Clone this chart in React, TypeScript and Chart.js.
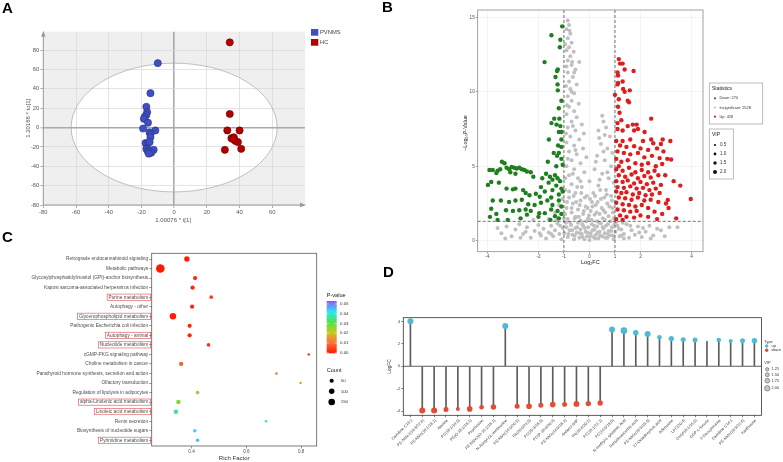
import React, { useEffect, useRef } from "react";
import { Chart, registerables } from "chart.js";
Chart.register(...registerables);

const FONT = "'Liberation Sans', Arial, Helvetica, sans-serif";
Chart.defaults.font.family = FONT;

// ---------------- A: PCA scores ----------------
const PCA_GROUPS = ["PVNMS", "HC"];
const PCA_PVNMS: number[][] = [
  [-10, 66.5], [-14.5, 35.5], [-17, 21.5], [-16.5, 16], [-17, 13], [-18, 11], [-18.5, 9], [-16, 5],
  [-19, -1], [-11.5, -3], [-15, -5], [-14.5, -7], [-14.5, -10], [-17.5, -16], [-16, -16], [-15, -15],
  [-17, -22], [-15.5, -23], [-12.5, -23], [-16, -25], [-14, -26], [-15.5, -27],
];
const PCA_HC: number[][] = [
  [34, 88], [34, 14], [32.5, -3], [40, -3], [35, -11], [36.5, -10], [37.5, -14], [39, -15],
  [31, -23], [41, -22], [36, -12],
];
const PCA_ELLIPSE = [63, 66.5];
const PCA_X_TICKS = [-80, -60, -40, -20, 0, 20, 40, 60];
const PCA_Y_TICKS = [-80, -60, -40, -20, 0, 20, 40, 60, 80];

// ---------------- B: volcano ----------------
const VOLC_DOWN: number[][] = [
  [-1.07, 14.4], [-1.49, 13.8], [-1.14, 13.5], [-1.16, 13.0], [-1.76, 12.0], [-1.24, 11.5], [-1.27, 11.4],
  [-1.33, 11.0], [-1.25, 10.5], [-1.24, 10.1], [-1.1, 9.4], [-1.2, 8.9], [-1.38, 8.2], [-1.18, 8.2],
  [-1.49, 7.9], [-1.29, 7.8], [-1.14, 7.7], [-1.2, 7.3], [-1.1, 7.3], [-1.59, 6.8], [-1.1, 6.8],
  [-1.23, 6.4], [-1.1, 6.3], [-1.4, 5.9], [-1.2, 5.9], [-1.27, 5.7], [-1.1, 5.5], [-1.63, 5.3],
  [-1.05, 5.1], [-1.3, 5.0],
  [-3.43, 5.3], [-3.33, 5.2], [-3.92, 4.75], [-3.79, 4.75], [-3.6, 4.7], [-3.5, 4.8], [-3.25, 4.9],
  [-3.15, 4.8], [-3.05, 4.95], [-2.95, 4.9], [-2.85, 4.85], [-2.75, 4.9], [-2.65, 4.8], [-2.55, 4.75],
  [-2.45, 4.65], [-2.3, 4.6], [-3.65, 4.55], [-3.1, 4.6], [-2.9, 4.5], [-2.2, 4.3],
  [-1.85, 4.2], [-1.7, 4.5], [-1.55, 4.3], [-1.45, 4.1], [-1.35, 4.4], [-1.25, 4.2], [-1.15, 4.0],
  [-1.6, 3.9], [-1.3, 3.7], [-1.1, 3.5], [-1.9, 3.6], [-1.45, 3.4],
  [-3.98, 3.75], [-3.85, 3.95], [-3.55, 3.9], [-3.25, 3.5], [-3.0, 3.45], [-2.9, 3.5], [-2.6, 3.4],
  [-2.5, 3.2], [-2.35, 3.05], [-2.1, 3.15], [-1.95, 2.95], [-1.75, 3.3], [-1.5, 2.9], [-1.2, 3.1],
  [-1.05, 3.3], [-3.79, 2.7], [-3.47, 2.7], [-3.15, 2.6], [-2.9, 2.7], [-2.65, 2.75], [-2.4, 2.45],
  [-2.15, 2.4], [-1.9, 2.55], [-1.65, 2.7], [-1.45, 2.4], [-1.2, 2.7], [-3.85, 2.15], [-3.65, 1.8],
  [-3.27, 2.05], [-3.0, 2.0], [-2.75, 2.05], [-2.5, 2.1], [-2.3, 2.0], [-1.97, 1.85], [-1.75, 1.85],
  [-1.5, 2.1], [-1.25, 2.0], [-1.1, 1.8], [-3.6, 1.4], [-3.2, 1.4], [-2.7, 1.5], [-1.53, 1.4],
  [-1.2, 1.5], [-1.35, 1.65], [-2.0, 1.6], [-2.45, 1.75], [-3.9, 1.6], [-1.1, 2.3],
];
const VOLC_UP: number[][] = [
  [1.15, 12.2], [1.2, 11.9], [1.3, 11.9], [1.38, 11.5], [1.73, 11.4], [1.1, 11.3], [1.12, 11.1],
  [1.12, 10.6], [1.3, 10.7], [1.1, 10.5], [1.32, 10.2], [1.38, 10.0], [1.58, 10.1], [1.0, 9.8],
  [1.15, 9.5], [1.5, 9.4], [1.55, 9.3], [1.12, 9.0], [1.18, 8.6], [1.25, 8.1], [1.1, 7.9], [2.42, 8.2],
  [1.7, 7.8], [1.85, 7.8], [1.5, 7.7], [2.16, 7.3], [1.1, 7.5], [1.3, 7.4], [1.75, 7.4], [1.9, 7.5],
  [2.42, 6.8], [2.87, 6.8], [3.17, 6.7], [2.8, 6.5], [2.5, 6.55], [2.1, 6.7], [1.6, 6.8], [1.3, 6.7],
  [1.05, 6.7], [1.2, 6.4], [1.45, 6.3], [1.75, 6.35], [2.0, 6.2], [2.3, 6.1], [2.65, 6.2], [2.9, 6.0],
  [1.1, 6.0], [1.35, 5.9], [1.6, 5.8], [1.9, 5.9], [2.15, 5.6], [2.45, 5.7], [2.75, 5.55], [3.05, 5.5],
  [3.2, 5.45], [1.05, 5.5], [1.25, 5.3], [1.5, 5.4], [1.8, 5.2], [2.05, 5.1], [2.3, 5.2], [2.6, 5.0],
  [2.85, 5.15], [1.15, 5.0],
  [1.05, 4.8], [1.3, 4.7], [1.55, 4.9], [1.8, 4.6], [2.05, 4.75], [2.3, 4.6], [2.55, 4.7], [1.15, 4.4],
  [1.4, 4.3], [1.65, 4.45], [1.9, 4.2], [2.15, 4.35], [2.4, 4.25], [2.7, 4.4], [2.97, 4.4], [1.05, 4.0],
  [1.3, 3.95], [1.5, 4.05], [1.75, 3.85], [2.0, 3.95], [2.25, 3.8], [2.5, 3.9], [2.8, 3.75], [3.3, 4.0],
  [1.1, 3.6], [1.35, 3.55], [1.6, 3.65], [1.85, 3.5], [2.1, 3.55], [2.35, 3.4], [2.6, 3.5], [3.56, 3.7],
  [1.05, 3.3], [1.25, 3.2], [1.45, 3.25], [1.7, 3.1], [1.95, 3.2], [2.2, 3.05], [2.45, 3.1], [2.75, 3.2],
  [1.15, 2.9], [1.4, 2.85], [1.65, 2.75], [1.9, 2.9], [2.15, 2.7], [2.4, 2.75], [2.7, 2.6], [3.0, 2.5],
  [3.97, 2.8], [3.07, 2.73], [1.05, 2.55], [1.3, 2.45], [1.55, 2.4], [1.8, 2.3], [2.05, 2.4], [2.3, 2.2],
  [3.1, 2.2], [1.1, 2.1], [1.35, 2.05], [1.6, 1.95], [1.85, 2.0], [2.55, 1.95], [1.2, 1.7], [1.45, 1.6],
  [1.75, 1.55], [2.0, 1.7], [2.3, 1.6], [2.85, 1.8], [1.05, 1.45], [1.3, 1.4], [2.65, 1.45], [3.4, 1.5],
];
const VOLC_NS: number[][] = [
  [-0.85, 14.8], [-0.8, 14.5], [-0.9, 14.2], [-0.75, 13.9], [-0.85, 13.6], [-0.7, 13.3], [-0.8, 13.0],
  [-0.9, 12.8], [-0.62, 12.7], [-0.75, 12.4], [-0.85, 12.1], [-0.4, 12.0], [-0.7, 11.8], [-0.55, 11.5],
  [-0.85, 11.3], [-0.65, 11.0], [-0.8, 10.7], [-0.5, 10.5], [-0.75, 10.2], [-0.6, 9.9], [-0.85, 9.7],
  [-0.7, 9.4], [-0.42, 9.2], [-0.8, 9.0], [-0.6, 8.7], [-0.9, 8.5], [-0.5, 8.3], [-0.7, 8.0], [-0.3, 7.8],
  [-0.85, 7.6], [-0.55, 7.4], [-0.22, 7.2], [-0.75, 7.0], [-0.4, 6.8], [-0.9, 6.6], [-0.6, 6.4],
  [-0.25, 6.2], [-0.8, 6.0], [-0.5, 5.8], [-0.12, 5.6], [-0.7, 5.4], [-0.35, 5.2], [-0.9, 5.0],
  [-0.6, 4.8], [-0.2, 4.6], [-0.8, 4.4], [-0.45, 4.2], [0.0, 4.0], [-0.7, 3.8], [-0.3, 3.6], [-0.95, 3.4],
  [-0.55, 3.2], [-0.1, 3.0], [-0.8, 2.9], [-0.35, 2.7], [0.1, 2.6], [-0.65, 2.5], [-0.15, 2.3],
  [-0.9, 2.2], [-0.45, 2.1], [0.05, 2.0], [-0.7, 1.9], [-0.25, 1.8], [0.2, 1.75], [-0.55, 1.6],
  [-0.05, 1.5], [-0.85, 1.45], [-0.35, 1.35], [0.3, 1.3],
  [0.5, 8.4], [0.55, 8.0], [0.35, 7.4], [0.6, 7.1], [0.8, 7.0], [0.45, 6.5], [0.7, 6.2], [0.9, 5.9],
  [0.3, 5.7], [0.6, 5.4], [0.85, 5.0], [0.2, 4.8], [0.5, 4.5], [0.75, 4.2], [0.95, 3.9], [0.35, 3.7],
  [0.65, 3.4], [0.15, 3.2], [0.85, 3.0], [0.45, 2.8], [0.7, 2.5], [0.25, 2.4], [0.9, 2.2], [0.55, 2.05],
  [0.4, 1.8], [0.75, 1.65], [0.95, 1.5], [0.6, 1.4],
  [-3.6, 0.85], [-3.45, 0.5], [-3.25, 0.95], [-3.05, 0.3], [-2.9, 0.75], [-2.75, 1.1], [-2.6, 0.45],
  [-2.45, 0.9], [-2.3, 0.2], [-2.15, 0.65], [-2.0, 1.05], [-1.9, 0.35], [-1.8, 0.8], [-1.7, 0.15],
  [-1.6, 0.55], [-1.5, 1.0], [-1.42, 0.3], [-1.35, 0.7], [-1.25, 1.15], [-1.18, 0.45], [-1.1, 0.1],
  [-1.05, 0.85], [-0.98, 0.5], [-0.92, 1.2], [-0.85, 0.25], [-0.78, 0.7], [-0.72, 1.05], [-0.66, 0.4],
  [-0.6, 0.1], [-0.55, 0.85], [-0.5, 0.55], [-0.45, 1.2], [-0.4, 0.2], [-0.35, 0.75], [-0.3, 0.45],
  [-0.25, 1.0], [-0.2, 0.1], [-0.15, 0.6], [-0.1, 0.3], [-0.05, 0.9], [0.0, 0.05], [0.05, 0.5],
  [0.1, 1.1], [0.15, 0.25], [0.2, 0.75], [0.25, 0.4], [0.3, 0.95], [0.35, 0.15], [0.4, 0.6],
  [0.45, 1.15], [0.5, 0.3], [0.55, 0.8], [0.6, 0.5], [0.65, 1.0], [0.7, 0.2], [0.75, 0.65], [0.82, 0.35],
  [0.88, 0.9], [0.95, 0.1], [1.02, 0.6], [1.1, 1.0], [1.18, 0.3], [1.25, 0.75], [1.35, 0.45], [1.45, 1.1],
  [1.55, 0.2], [1.65, 0.7], [1.78, 0.4], [1.9, 0.95], [2.05, 0.25], [2.2, 0.6], [2.35, 1.0], [2.5, 0.35],
  [2.65, 0.8], [2.8, 0.7], [2.95, 0.3], [3.13, 0.9], [3.45, 0.9], [-1.6, 1.45], [-1.3, 1.35], [-2.2, 1.4],
  [-1.35, 1.9], [-1.2, 2.4], [-1.05, 2.8], [-0.95, 1.8], [-0.88, 2.6], [-0.8, 3.3], [-0.75, 1.2],
  [-0.7, 2.2], [-0.62, 3.0], [-0.58, 1.5], [-0.52, 2.6], [-0.48, 3.6], [-0.42, 1.6], [-0.38, 2.4],
  [-0.32, 3.2], [-0.28, 1.1], [-0.22, 2.0], [-0.18, 2.9], [-0.12, 1.3], [-0.08, 2.2], [-0.02, 1.7],
  [0.02, 2.8], [0.08, 1.4], [0.12, 2.3], [0.18, 1.0], [0.22, 3.0], [0.28, 1.9], [0.32, 2.6], [0.38, 1.2],
  [0.42, 3.4], [0.48, 2.2], [0.52, 1.5], [0.58, 2.9], [0.62, 1.9], [0.68, 3.1], [0.72, 1.1], [0.78, 2.3],
  [0.82, 1.3], [0.88, 2.7], [0.92, 1.9], [0.98, 1.1], [1.05, 1.25], [1.15, 0.8], [1.25, 0.35], [1.3, 1.2],
  [-1.15, 1.0], [-1.0, 1.5], [-0.9, 0.9], [-0.82, 0.45], [-0.68, 0.7], [-0.58, 0.35], [-0.48, 0.9],
  [-0.38, 0.5], [-0.28, 0.25], [-0.18, 0.85], [-0.08, 0.55], [0.02, 0.3], [0.12, 0.7], [0.22, 0.15],
  [0.32, 0.55], [0.42, 0.35], [0.52, 0.9], [0.62, 0.2], [0.72, 0.45], [0.85, 0.65], [0.92, 0.35],
  [-0.95, 4.2], [-0.65, 4.5], [-0.35, 4.0], [-0.85, 5.5], [-0.55, 6.1], [-0.92, 7.2], [-0.65, 7.7],
  [-0.88, 9.1], [-0.7, 10.0], [-0.92, 10.4], [-0.6, 11.3], [-0.9, 11.7], [-0.68, 12.0], [-0.95, 13.2],
  [-0.78, 14.1], [0.4, 4.1], [0.7, 4.6], [0.25, 5.3], [0.55, 6.0], [0.38, 6.9], [0.65, 7.6],
  [-3.3, 0.15], [-2.5, 0.6], [-1.95, 0.5], [1.6, 1.0], [2.1, 0.85], [2.4, 0.15], [-1.5, 0.45],
  [1.35, 0.15], [1.95, 0.55], [-2.7, 0.2],
];
const VOLC_X_TICKS = [-4, -2, -1, 0, 1, 2, 4];
const VOLC_Y_TICKS = [0, 5, 10, 15];
const VOLC_STATS = ["Down: 270", "Insignificant: 2528", "Up: 428"];
const VOLC_VIP_LEVELS = [0.5, 1.0, 1.5, 2.0];
const FC_CUT = 1;
const P_CUT = 1.3;

// ---------------- C: KEGG enrichment ----------------
const PATHWAYS = [
  "Retrograde endocannabinoid signaling", "Metabolic pathways",
  "Glycosylphosphatidylinositol (GPI)-anchor biosynthesis", "Kaposi sarcoma-associated herpesvirus infection",
  "Purine metabolism", "Autophagy - other", "Glycerophospholipid metabolism",
  "Pathogenic Escherichia coli infection", "Autophagy - animal", "Nucleotide metabolism",
  "cGMP-PKG signaling pathway", "Choline metabolism in cancer",
  "Parathyroid hormone synthesis, secretion and action", "Olfactory transduction",
  "Regulation of lipolysis in adipocytes", "alpha-Linolenic acid metabolism", "Linoleic acid metabolism",
  "Renin secretion", "Biosynthesis of nucleotide sugars", "Pyrimidine metabolism",
];
const RICH = [0.383, 0.286, 0.413, 0.404, 0.472, 0.402, 0.332, 0.393, 0.393, 0.462, 0.828, 0.362, 0.71, 0.798, 0.422, 0.352, 0.343, 0.672, 0.412, 0.422];
const PVALUE = [0.001, 0.0005, 0.002, 0.002, 0.004, 0.002, 0.001, 0.002, 0.002, 0.003, 0.004, 0.008, 0.011, 0.014, 0.024, 0.025, 0.034, 0.04, 0.041, 0.043];
const COUNTS = [95, 265, 52, 55, 35, 52, 140, 52, 52, 35, 10, 55, 12, 6, 35, 62, 62, 10, 28, 28];
const BOXED = [4, 6, 8, 9, 15, 16, 19];
const RICH_TICKS = [0.4, 0.6, 0.8];
const P_LEGEND = [0.05, 0.04, 0.03, 0.02, 0.01, 0.0];
const COUNT_LEGEND = [50, 100, 150];
const P_STOPS: [number, number[]][] = [
  [0, [255, 20, 0]], [0.01, [255, 110, 60]], [0.02, [200, 200, 30]],
  [0.03, [80, 225, 80]], [0.04, [40, 230, 245]], [0.05, [160, 80, 245]],
];

// ---------------- D: lollipop ----------------
const METABOLITES = [
  "Carnitine C13:2", "PE-NMe2(18:3/22:6)", "PE-NMe(18:1/18:1)", "Alanine", "PC(18:1/14:0)",
  "PE(O-18:1/18:1)", "Psychosine", "PE-NMe2(O-16:1/18:1)", "N-Acetyl-DL-methionine", "PE-NMe(14:0/20:5)",
  "PA(20:0/24:0)", "PC(20:3/18:0)", "PC(P-18:0/20:4)", "PE-NMe(14:0/18:2)", "Antiarol 8AP",
  "PA(18:4/20:1)", "PC(18:1/22:1)", "PC(14:0/18:0)", "N-methyl-L-glutamic Acid", "Dehydroascorbic acid",
  "PE-NMe(18:3/15:0)", "17-Octadecynoic acid", "Adenosine", "LPC(20:4)", "Cer(d18:1/15:0)",
  "GDP-L-fucose", "2-Deoxyinosine", "Carnitine C14:1", "PE-NMe(18:3/22:6)", "Xanthosine",
];
const LOG_FC = [4.0, -3.94, -3.94, -3.85, -3.79, -3.79, -3.65, -3.62, 3.59, -3.56, -3.56, -3.47, -3.41, -3.41, -3.35, -3.32, -3.26, 3.26, 3.17, 2.99, 2.87, 2.58, 2.46, 2.37, 2.34, 2.22, 2.34, 2.25, 2.28, 2.28];
const VIP_D = [2.23, 2.23, 2.23, 1.85, 1.48, 2.08, 1.7, 2.0, 2.23, 1.85, 2.08, 1.85, 2.08, 1.85, 2.15, 2.0, 2.0, 2.23, 2.45, 2.0, 2.23, 1.7, 2.0, 1.85, 1.85, 0.5, 1.7, 1.48, 1.85, 2.0];
const FC_TICKS = [-4, -2, 0, 2, 4];
const TYPES = ["up", "down"];
const VIP_LEGEND = [1.25, 1.5, 1.75, 2.0];

// ---------------- helpers ----------------
const pts = (a: number[][]) => a.map(([x, y]) => ({ x, y }));
const font = (s: number, w = "normal") => `${w} ${s}px ${FONT}`;
function pColor(p: number) {
  for (let i = 1; i < P_STOPS.length; i++) {
    const [p1, c1] = P_STOPS[i];
    const [p0, c0] = P_STOPS[i - 1];
    if (p <= p1) {
      const t = (p - p0) / (p1 - p0);
      const c = c0.map((v, k) => Math.round(v + (c1[k] - v) * t));
      return `rgb(${c[0]},${c[1]},${c[2]})`;
    }
  }
  const c = P_STOPS[P_STOPS.length - 1][1];
  return `rgb(${c[0]},${c[1]},${c[2]})`;
}
const countR = (n: number) => Math.sqrt(1 + 0.066 * n);
const vipR = (v: number) => 1.7 + (v - 1.25) * 1.33;
const setTicks = (vals: number[]) => (s: any) => { s.ticks = vals.map((v) => ({ value: v })); };
const base = (pad: any) => ({
  animation: false as const, responsive: false, devicePixelRatio: 1, events: [] as any[],
  layout: { padding: pad },
  plugins: { legend: { display: false }, tooltip: { enabled: false } },
});

// ---------------- A config ----------------
function configA(): any {
  const deco = {
    id: "pcaDeco",
    beforeDraw(chart: any) {
      const { ctx, chartArea: a, scales: { x, y } } = chart;
      ctx.save();
      ctx.fillStyle = "#efefef";
      ctx.fillRect(a.left, a.top, a.right - a.left, a.bottom - a.top);
      const cx = x.getPixelForValue(0), cy = y.getPixelForValue(0);
      const rx = x.getPixelForValue(PCA_ELLIPSE[0]) - cx, ry = cy - y.getPixelForValue(PCA_ELLIPSE[1]);
      ctx.beginPath(); ctx.ellipse(cx, cy, rx, ry, 0, 0, Math.PI * 2);
      ctx.fillStyle = "#ffffff"; ctx.fill();
      ctx.restore();
    },
    beforeDatasetsDraw(chart: any) {
      const { ctx, chartArea: a, scales: { x, y } } = chart;
      ctx.save();
      const cx = x.getPixelForValue(0), cy = y.getPixelForValue(0);
      const rx = x.getPixelForValue(PCA_ELLIPSE[0]) - cx, ry = cy - y.getPixelForValue(PCA_ELLIPSE[1]);
      ctx.beginPath(); ctx.ellipse(cx, cy, rx, ry, 0, 0, Math.PI * 2);
      ctx.strokeStyle = "#a8a8a8"; ctx.lineWidth = 0.7; ctx.stroke();
      ctx.strokeStyle = "#9a9a9a"; ctx.fillStyle = "#9a9a9a"; ctx.lineWidth = 1;
      ctx.beginPath(); ctx.moveTo(a.left, a.bottom); ctx.lineTo(a.left, a.top + 3);
      ctx.moveTo(a.left, a.bottom); ctx.lineTo(a.right - 3, a.bottom); ctx.stroke();
      ctx.beginPath(); ctx.moveTo(a.left, a.top - 1); ctx.lineTo(a.left - 2.2, a.top + 5); ctx.lineTo(a.left + 2.2, a.top + 5); ctx.closePath(); ctx.fill();
      ctx.beginPath(); ctx.moveTo(a.right + 1, a.bottom); ctx.lineTo(a.right - 5, a.bottom - 2.2); ctx.lineTo(a.right - 5, a.bottom + 2.2); ctx.closePath(); ctx.fill();
      ctx.restore();
    },
    afterDraw(chart: any) {
      const { ctx, chartArea: a } = chart;
      ctx.save();
      ctx.fillStyle = "#555"; ctx.font = font(6);
      ctx.textAlign = "center"; ctx.textBaseline = "middle";
      ctx.fillText("1.00076 * t[1]", (a.left + a.right) / 2 - 1, 220);
      ctx.translate(28.5, (a.top + a.bottom) / 2); ctx.rotate(-Math.PI / 2);
      ctx.fillText("1.20188 * to[1]", 0, 0);
      ctx.restore();
      ctx.save();
      const cols = ["#3f4fc0", "#b00000"];
      PCA_GROUPS.forEach((g, i) => {
        const yy = 29 + i * 10;
        ctx.fillStyle = cols[i]; ctx.fillRect(311, yy, 7.3, 6.7);
        ctx.fillStyle = "#444"; ctx.font = font(5.8); ctx.textBaseline = "middle"; ctx.textAlign = "left";
        ctx.fillText(g, 320, yy + 3.4);
      });
      ctx.restore();
    },
  };
  const gridCol = (c: any) => (c.tick && c.tick.value === 0 ? "#a9a9a9" : "#d8d8d8");
  const gridW = (c: any) => (c.tick && c.tick.value === 0 ? 1.6 : 0.7);
  return {
    type: "scatter",
    data: {
      datasets: [
        { label: PCA_GROUPS[0], data: pts(PCA_PVNMS), backgroundColor: "#3f4fc0", borderColor: "#27318a", borderWidth: 0.6, pointRadius: 3.6 },
        { label: PCA_GROUPS[1], data: pts(PCA_HC), backgroundColor: "#b00000", borderColor: "#700000", borderWidth: 0.6, pointRadius: 3.6 },
      ],
    },
    options: {
      ...base({ left: 0, top: 31.7, right: 60, bottom: 0 }),
      scales: {
        x: {
          type: "linear", min: -80, max: 80, afterFit: (s: any) => { s.height = 27; }, afterBuildTicks: setTicks(PCA_X_TICKS),
          border: { display: false },
          grid: { color: gridCol, lineWidth: gridW, drawTicks: true, tickLength: 3, tickColor: "#9a9a9a", tickWidth: 0.8 },
          ticks: { font: { size: 5.8 }, color: "#555", padding: 0.5, maxRotation: 0, autoSkip: false },
        },
        y: {
          type: "linear", min: -80, max: 99, afterFit: (s: any) => { s.width = 43.3; }, afterBuildTicks: setTicks(PCA_Y_TICKS),
          border: { display: false },
          grid: { color: gridCol, lineWidth: gridW, drawTicks: true, tickLength: 3, tickColor: "#9a9a9a", tickWidth: 0.8 },
          ticks: { font: { size: 5.8 }, color: "#555", padding: 1, autoSkip: false },
        },
      },
    },
    plugins: [deco],
  };
}

// ---------------- B config ----------------
function configB(): any {
  const deco = {
    id: "volcDeco",
    afterDatasetsDraw(chart: any) {
      const { ctx, chartArea: a, scales: { x, y } } = chart;
      ctx.save();
      ctx.strokeStyle = "#4a4a4a"; ctx.lineWidth = 0.8; ctx.setLineDash([3, 2]);
      ctx.beginPath();
      [-FC_CUT, FC_CUT].forEach((v) => { const px = x.getPixelForValue(v); ctx.moveTo(px, a.top); ctx.lineTo(px, a.bottom); });
      const py = y.getPixelForValue(P_CUT); ctx.moveTo(a.left, py); ctx.lineTo(a.right, py);
      ctx.stroke(); ctx.setLineDash([]);
      ctx.strokeStyle = "#8a8a8a"; ctx.lineWidth = 0.8;
      ctx.strokeRect(a.left, a.top, a.right - a.left, a.bottom - a.top);
      ctx.restore();
    },
    afterDraw(chart: any) {
      const { ctx, chartArea: a } = chart;
      ctx.save();
      ctx.fillStyle = "#222"; ctx.textAlign = "center"; ctx.textBaseline = "middle"; ctx.font = font(5.5);
      ctx.fillText("Log\u2082FC", (a.left + a.right) / 2, 262.3);
      ctx.save(); ctx.translate(95, 133); ctx.rotate(-Math.PI / 2);
      ctx.fillText("\u2212Log\u2081\u2080P-Value", 0, 0); ctx.restore();
      ctx.strokeStyle = "#a0a0a0"; ctx.lineWidth = 0.7;
      ctx.fillStyle = "#fff"; ctx.fillRect(339.3, 83, 53.4, 41); ctx.strokeRect(339.3, 83, 53.4, 41);
      ctx.fillRect(339.3, 129, 24, 50); ctx.strokeRect(339.3, 129, 24, 50);
      ctx.textAlign = "left"; ctx.fillStyle = "#222"; ctx.font = font(5);
      ctx.fillText("Statistics", 342, 88.7);
      ctx.fillText("VIP", 342, 134.7);
      const cols = ["#1f7f1f", "#c0c0c0", "#dc1e1e"];
      ctx.font = font(3.9);
      VOLC_STATS.forEach((s, i) => {
        const yy = 98.3 + i * 9.2;
        ctx.fillStyle = cols[i]; ctx.beginPath(); ctx.arc(345, yy, 1.1, 0, Math.PI * 2); ctx.fill();
        ctx.fillStyle = "#333"; ctx.fillText(s, 349.5, yy);
      });
      ctx.font = font(4.6);
      VOLC_VIP_LEVELS.forEach((v, i) => {
        const yy = 145 + i * 9;
        ctx.fillStyle = "#111"; ctx.beginPath(); ctx.arc(345, yy, 0.8 + v * 0.6, 0, Math.PI * 2); ctx.fill();
        ctx.fillStyle = "#333"; ctx.fillText(v.toFixed(1), 350, yy);
      });
      ctx.restore();
    },
  };
  return {
    type: "scatter",
    data: {
      datasets: [
        { label: "Down", data: pts(VOLC_DOWN), backgroundColor: "#1f7f1f", borderWidth: 0, pointRadius: 2.2 },
        { label: "Up", data: pts(VOLC_UP), backgroundColor: "#dc1e1e", borderWidth: 0, pointRadius: 2.2 },
        { label: "Insignificant", data: pts(VOLC_NS), backgroundColor: "#c0c0c0", borderWidth: 0, pointRadius: 2.0 },
      ],
    },
    options: {
      ...base({ left: 0, top: 10, right: 80, bottom: 0 }),
      scales: {
        x: {
          type: "linear", min: -4.38, max: 4.45, afterFit: (s: any) => { s.height = 20.3; }, afterBuildTicks: setTicks(VOLC_X_TICKS),
          border: { display: false },
          grid: { color: "#ececec", lineWidth: 0.6, drawTicks: true, tickLength: 2, tickColor: "#666", tickWidth: 0.6 },
          ticks: { font: { size: 4.6 }, color: "#4d4d4d", padding: 0.5, maxRotation: 0, autoSkip: false },
        },
        y: {
          type: "linear", min: -0.74, max: 15.5, afterFit: (s: any) => { s.width = 107.7; }, afterBuildTicks: setTicks(VOLC_Y_TICKS),
          border: { display: false },
          grid: { color: "#ececec", lineWidth: 0.6, drawTicks: true, tickLength: 2, tickColor: "#666", tickWidth: 0.6 },
          ticks: { font: { size: 4.6 }, color: "#4d4d4d", padding: 1, autoSkip: false },
        },
      },
    },
    plugins: [deco],
  };
}

// ---------------- C config ----------------
function configC(): any {
  const deco = {
    id: "keggDeco",
    afterDraw(chart: any) {
      const { ctx, chartArea: a, scales: { y } } = chart;
      ctx.save();
      ctx.strokeStyle = "#5a5a5a"; ctx.lineWidth = 0.8;
      ctx.strokeRect(a.left, a.top, a.right - a.left, a.bottom - a.top);
      ctx.font = font(4.8);
      ctx.strokeStyle = "#e8474b"; ctx.lineWidth = 0.6;
      BOXED.forEach((i) => {
        const w = ctx.measureText(PATHWAYS[i]).width;
        const right = a.left - 3.5;
        const py = y.getPixelForValue(i);
        ctx.strokeRect(right - w - 1.3, py - 3.1, w + 3.8, 6.2);
      });
      ctx.fillStyle = "#333"; ctx.textAlign = "center"; ctx.textBaseline = "middle"; ctx.font = font(6);
      ctx.fillText("Rich Factor", (a.left + a.right) / 2, 233.3);
      ctx.textAlign = "left"; ctx.font = font(5.6); ctx.fillStyle = "#222";
      ctx.fillText("P-value", 326.7, 70.7);
      const gTop = 76, gBot = 128.3, gL = 326.7, gW = 10;
      const grad = ctx.createLinearGradient(0, gBot, 0, gTop);
      P_STOPS.forEach(([p, c]) => grad.addColorStop(p / 0.05, `rgb(${c[0]},${c[1]},${c[2]})`));
      ctx.fillStyle = grad; ctx.fillRect(gL, gTop, gW, gBot - gTop);
      ctx.font = font(4.4);
      P_LEGEND.forEach((p) => {
        const yy = 127.7 - (p / 0.05) * (127.7 - 79);
        ctx.strokeStyle = "#fff"; ctx.lineWidth = 0.5;
        ctx.beginPath(); ctx.moveTo(gL, yy); ctx.lineTo(gL + 2, yy); ctx.moveTo(gL + gW - 2, yy); ctx.lineTo(gL + gW, yy); ctx.stroke();
        ctx.fillStyle = "#333"; ctx.fillText(p.toFixed(2), 340, yy);
      });
      ctx.font = font(5.6); ctx.fillStyle = "#222";
      ctx.fillText("Count", 326.7, 145);
      ctx.font = font(4.4);
      COUNT_LEGEND.forEach((n, i) => {
        const yy = 155.7 + i * 10.65;
        ctx.fillStyle = "#000"; ctx.beginPath(); ctx.arc(331.7, yy, countR(n), 0, Math.PI * 2); ctx.fill();
        ctx.fillStyle = "#333"; ctx.fillText(String(n), 340.7, yy);
      });
      ctx.restore();
    },
  };
  return {
    type: "scatter",
    data: {
      datasets: [
        {
          label: "pathways",
          data: RICH.map((r, i) => ({ x: r, y: i })),
          backgroundColor: PVALUE.map(pColor),
          borderWidth: 0,
          pointRadius: COUNTS.map(countR),
        },
      ],
    },
    options: {
      ...base({ left: 0, top: 28.3, right: 63.3, bottom: 0 }),
      scales: {
        x: {
          type: "linear", min: 0.2545, max: 0.857, afterFit: (s: any) => { s.height = 16; }, afterBuildTicks: setTicks(RICH_TICKS),
          border: { display: false },
          grid: { drawOnChartArea: false, drawTicks: true, tickLength: 2.5, tickColor: "#555", tickWidth: 0.6 },
          ticks: { font: { size: 4.6 }, color: "#4d4d4d", padding: 0.5, maxRotation: 0, autoSkip: false, callback: (v: any) => Number(v).toFixed(1) },
        },
        y: {
          type: "linear", min: -0.6, max: PATHWAYS.length - 0.4, reverse: true, afterFit: (s: any) => { s.width = 151.7; },
          afterBuildTicks: setTicks(PATHWAYS.map((_, i) => i)),
          border: { display: false },
          grid: { drawOnChartArea: false, drawTicks: true, tickLength: 2.5, tickColor: "#555", tickWidth: 0.6 },
          ticks: { font: { size: 4.8 }, color: "#4d4d4d", padding: 1, autoSkip: false, callback: (v: any) => PATHWAYS[v] },
        },
      },
    },
    plugins: [deco],
  };
}

// ---------------- D config ----------------
function configD(): any {
  const UP = "#4DBBD5", DOWN = "#E64B35";
  const deco = {
    id: "lolliDeco",
    beforeDatasetsDraw(chart: any) {
      const { ctx, chartArea: a, scales: { y } } = chart;
      ctx.save();
      ctx.strokeStyle = "#333"; ctx.lineWidth = 0.8;
      const py = y.getPixelForValue(0);
      ctx.beginPath(); ctx.moveTo(a.left, py); ctx.lineTo(a.right, py); ctx.stroke();
      ctx.restore();
    },
    afterDraw(chart: any) {
      const { ctx, chartArea: a, scales: { x } } = chart;
      ctx.save();
      ctx.strokeStyle = "#333"; ctx.lineWidth = 0.8;
      ctx.strokeRect(a.left, a.top, a.right - a.left, a.bottom - a.top);
      ctx.fillStyle = "#444"; ctx.font = font(4);
      ctx.textAlign = "right"; ctx.textBaseline = "middle";
      METABOLITES.forEach((m, i) => {
        const px = x.getPixelForValue(i);
        ctx.save(); ctx.translate(px + 1.5, a.bottom + 4.5); ctx.rotate(-Math.PI / 4);
        ctx.fillText(m, 0, 0); ctx.restore();
      });
      ctx.textAlign = "center"; ctx.font = font(4.8); ctx.fillStyle = "#333";
      ctx.save(); ctx.translate(20, (a.top + a.bottom) / 2); ctx.rotate(-Math.PI / 2);
      ctx.fillText("LogFC", 0, 0); ctx.restore();
      ctx.textAlign = "left"; ctx.font = font(3.9); ctx.fillStyle = "#333";
      ctx.fillText("Type", 394.3, 61.7);
      [UP, DOWN].forEach((c, i) => {
        const yy = 66 + i * 4.3;
        ctx.fillStyle = c; ctx.beginPath(); ctx.arc(396.7, yy, 1.7, 0, Math.PI * 2); ctx.fill();
        ctx.fillStyle = "#333"; ctx.fillText(TYPES[i], 401.5, yy);
      });
      ctx.fillText("VIP", 394.3, 83.3);
      const ys = [89.3, 94.7, 100.7, 108.3];
      VIP_LEGEND.forEach((v, i) => {
        ctx.fillStyle = "#c8c8c8"; ctx.strokeStyle = "#444"; ctx.lineWidth = 0.5;
        ctx.beginPath(); ctx.arc(397.3, ys[i], vipR(v), 0, Math.PI * 2); ctx.fill(); ctx.stroke();
        ctx.fillStyle = "#333"; ctx.fillText(v.toFixed(2), 401.5, ys[i]);
      });
      ctx.restore();
    },
  };
  return {
    type: "scatter",
    data: {
      datasets: [
        {
          type: "scatter", label: "points",
          data: LOG_FC.map((v, i) => ({ x: i, y: v })),
          backgroundColor: LOG_FC.map((v) => (v > 0 ? UP : DOWN)),
          borderWidth: 0,
          pointRadius: VIP_D.map(vipR),
        },
        {
          type: "bar", label: "stems",
          data: LOG_FC.map((v, i) => ({ x: i, y: v })),
          backgroundColor: "#5c5c5c", barThickness: 1, borderWidth: 0,
        },
      ],
    },
    options: {
      ...base({ left: 0, top: 37.7, right: 21.5, bottom: 0 }),
      scales: {
        x: {
          type: "linear", min: -0.6, max: METABOLITES.length - 0.4, offset: false,
          afterFit: (s: any) => { s.height = 46.7; }, afterBuildTicks: setTicks(METABOLITES.map((_, i) => i)),
          border: { display: false },
          grid: { drawOnChartArea: false, drawTicks: true, tickLength: 2, tickColor: "#333", tickWidth: 0.6, offset: false },
          ticks: { display: false, autoSkip: false },
        },
        y: {
          type: "linear", min: -4.36, max: 4.32, afterFit: (s: any) => { s.width = 33.3; }, afterBuildTicks: setTicks(FC_TICKS),
          border: { display: false },
          grid: { drawOnChartArea: false, drawTicks: true, tickLength: 2, tickColor: "#333", tickWidth: 0.6 },
          ticks: { font: { size: 4.4 }, color: "#4d4d4d", padding: 1, autoSkip: false },
        },
      },
    },
    plugins: [deco],
  };
}

function ChartCanvas({ left, top, width, height, make }: any) {
  const ref = useRef<HTMLCanvasElement>(null);
  useEffect(() => {
    const chart = new Chart(ref.current as HTMLCanvasElement, make());
    return () => chart.destroy();
  }, []);
  return <canvas ref={ref} width={width} height={height} style={{ position: "absolute", left, top, width, height }} />;
}

const letter = (t: string, left: number, top: number) => (
  <div style={{ position: "absolute", left, top, font: `bold 15px ${FONT}`, color: "#000", lineHeight: "17px" }}>{t}</div>
);

export default function App() {
  return (
    <div style={{ position: "fixed", left: 0, top: 0, width: 783, height: 462, background: "#fff", overflow: "hidden" }}>
      <ChartCanvas left={0} top={0} width={365} height={232} make={configA} />
      <ChartCanvas left={370} top={0} width={413} height={272} make={configB} />
      <ChartCanvas left={0} top={225} width={380} height={237} make={configC} />
      <ChartCanvas left={370} top={280} width={413} height={182} make={configD} />
      {letter("A", 2, -1)}
      {letter("B", 382, -2)}
      {letter("C", 2, 228)}
      {letter("D", 383, 263)}
    </div>
  );
}
